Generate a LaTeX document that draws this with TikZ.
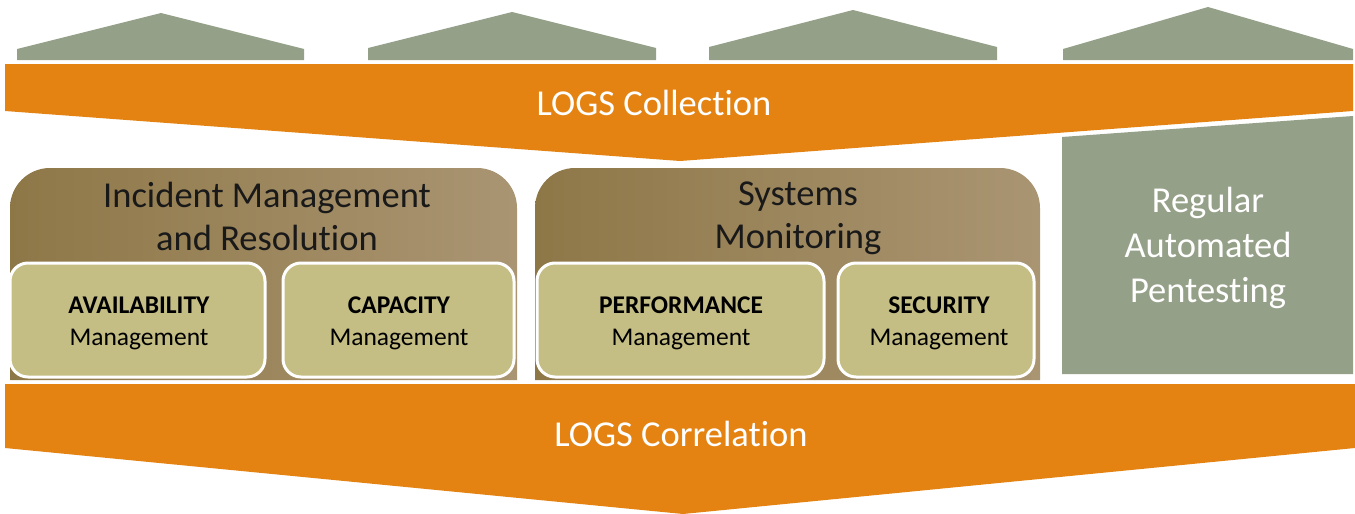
\documentclass[tikz,border=0pt]{standalone}
\usepackage{fontspec}
\setmainfont{Carlito}[Ligatures={NoCommon}]
\begin{document}
\begin{tikzpicture}[x=1pt,y=-1pt,
  roof/.style={fill=roofgreen,draw=none},
  band/.style={fill=bandorange,draw=none},
  inner/.style={fill=olive,draw=white,line width=3pt,rounded corners=18pt},
  bigtxt/.style={font=\fontsize{36.5}{44}\selectfont,anchor=base,text=black!90,inner sep=0pt},
  whitetxt/.style={font=\fontsize{36.5}{44}\selectfont,anchor=base,text=white,inner sep=0pt},
  smalltxt/.style={font=\fontsize{25.5}{32}\selectfont,anchor=base,text=black,inner sep=0pt}]
\definecolor{roofgreen}{HTML}{95A088}
\definecolor{bandorange}{HTML}{E48312}
\definecolor{olive}{HTML}{C4BD84}
\definecolor{brownL}{HTML}{8E7747}
\definecolor{brownR}{HTML}{AA9573}
\useasboundingbox (0,0) rectangle (1355,514);
% roofs
\fill[roof] (17,60) -- (17,49) -- (161,13) -- (304,49) -- (304,60) -- cycle;
\fill[roof] (368,60) -- (368,48) -- (512,12) -- (656,48) -- (656,60) -- cycle;
\fill[roof] (709,60) -- (709,47) -- (853,10) -- (997,47) -- (997,60) -- cycle;
\fill[roof] (1063,60) -- (1063,49) -- (1208,7) -- (1353,49) -- (1353,60) -- cycle;
% top band
\fill[band] (5,64) -- (1353,64) -- (1353,111) -- (680,161) -- (5,111) -- cycle;
\node[whitetxt] (collect) at (654,115) {LOGS Collection};
% right box
\fill[roofgreen] (1062,137) -- (1353,116) -- (1353,374) -- (1062,374) -- cycle;
\node[whitetxt] (pent1) at (1208,212) {Regular};
\node[whitetxt] (pent2) at (1208,257) {Automated};
\node[whitetxt] (pent3) at (1208,302) {Pentesting};
% brown boxes
\shade[left color=brownL,right color=brownR] (10,380) [rounded corners=40pt] -- (10,168) -- (517,168) [sharp corners] -- (517,380) -- cycle;
\shade[left color=brownL,right color=brownR] (535,380) [rounded corners=40pt] -- (535,168) -- (1040,168) [sharp corners] -- (1040,380) -- cycle;
\node[bigtxt] (inc1) at (267,207) {Incident Management};
\node[bigtxt] (inc2) at (267,250) {and Resolution};
\node[bigtxt] (sys1) at (798,205) {Systems};
\node[bigtxt] (sys2) at (798,248) {Monitoring};
% inner boxes
\draw[inner] (10,263) rectangle (265,377);
\draw[inner] (283,263) rectangle (514,377);
\draw[inner] (537,263) rectangle (824,377);
\draw[inner] (838,263) rectangle (1034,377);
\node[smalltxt] (avail1) at (139,313) {\textbf{AVAILABILITY}};
\node[smalltxt] (avail2) at (139,345) {Management};
\node[smalltxt] (cap1) at (399,313) {\textbf{CAPACITY}};
\node[smalltxt] (cap2) at (399,345) {Management};
\node[smalltxt] (perf1) at (681,313) {\textbf{PERFORMANCE}};
\node[smalltxt] (perf2) at (681,345) {Management};
\node[smalltxt] (sec1) at (939,313) {\textbf{SECURITY}};
\node[smalltxt] (sec2) at (939,345) {Management};
% bottom band
\fill[band] (5,384) -- (1355,384) -- (1355,448) -- (683,514) -- (5,448) -- cycle;
\node[whitetxt] (corr) at (681,446) {LOGS Correlation};
\end{tikzpicture}
\end{document}
